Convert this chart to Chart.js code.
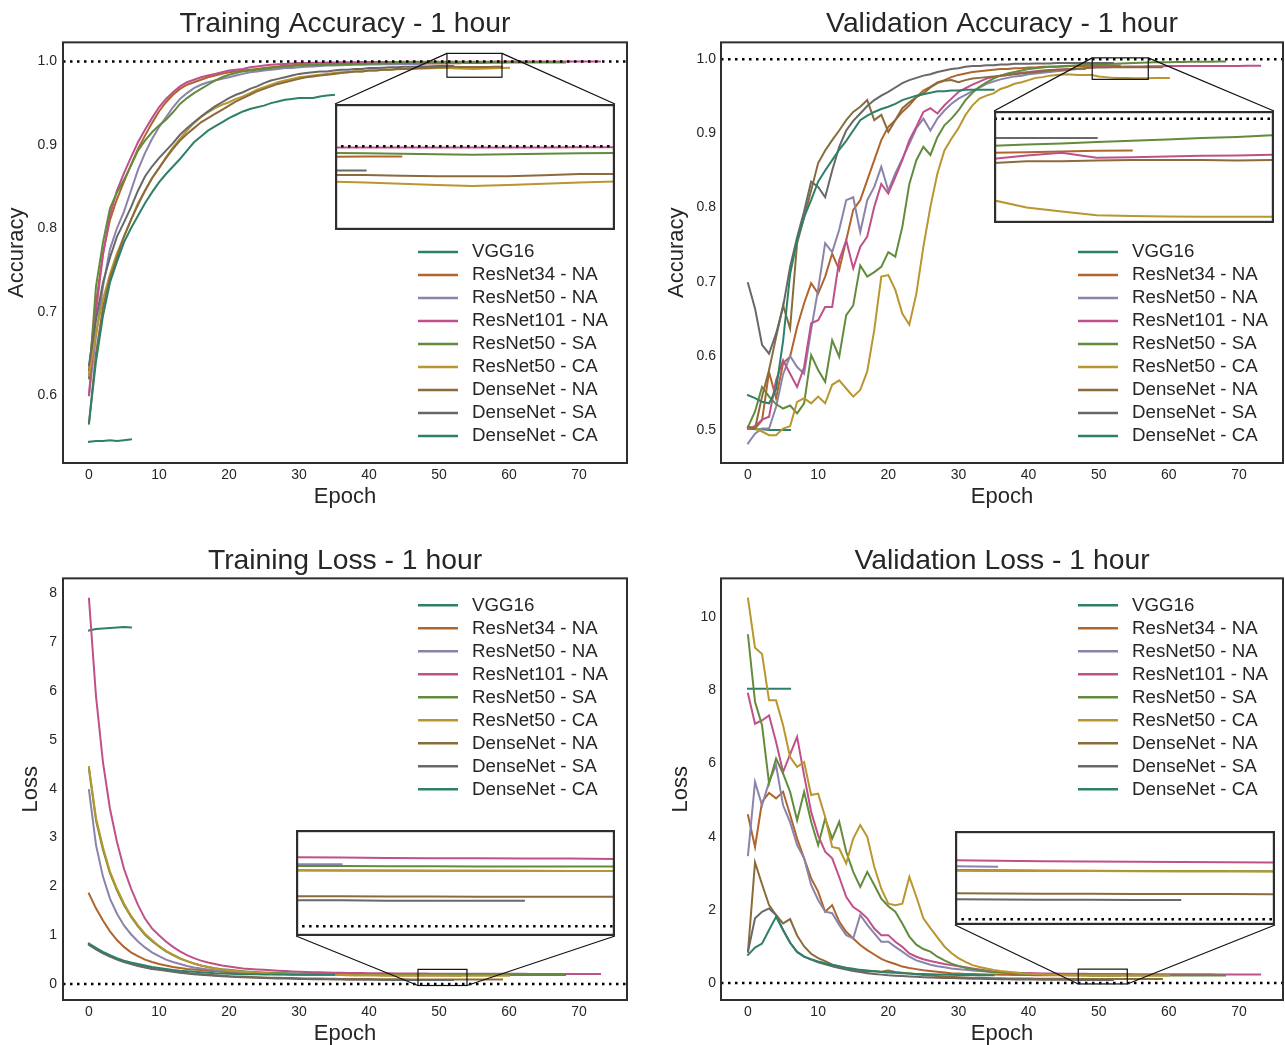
<!DOCTYPE html>
<html>
<head>
<meta charset="utf-8">
<script src="https://cdn.jsdelivr.net/npm/chart.js@4.4.1/dist/chart.umd.min.js"></script>
<style>
  html, body { margin: 0; padding: 0; background: #fff; overflow: hidden; }
  body { width: 1285px; height: 1045px; position: relative; }
  .panel { position: absolute; }
  .panel canvas { position: absolute; left: 0; top: 0; }
</style>
</head>
<body>
<div class="panel" style="left:0px;top:0px;width:642px;height:520px">
  <canvas id="mainTL" width="642" height="520"></canvas>
  <canvas id="insetTL" width="280" height="126" style="left:335px;top:104px"></canvas>
</div>
<div class="panel" style="left:660px;top:0px;width:625px;height:520px">
  <canvas id="mainTR" width="625" height="520"></canvas>
  <canvas id="insetTR" width="280" height="112" style="left:334px;top:111px"></canvas>
</div>
<div class="panel" style="left:0px;top:536px;width:642px;height:520px">
  <canvas id="mainBL" width="642" height="520"></canvas>
  <canvas id="insetBL" width="319" height="106" style="left:296px;top:294px"></canvas>
</div>
<div class="panel" style="left:660px;top:536px;width:625px;height:520px">
  <canvas id="mainBR" width="625" height="520"></canvas>
  <canvas id="insetBR" width="320" height="94" style="left:295px;top:295px"></canvas>
</div>
<script>
const models = ['VGG16', 'ResNet34 - NA', 'ResNet50 - NA', 'ResNet101 - NA', 'ResNet50 - SA',
    'ResNet50 - CA', 'DenseNet - NA', 'DenseNet - SA', 'DenseNet - CA'];

// value per epoch, index = epoch
const trainAccVGG16 = [0.544, 0.545, 0.545, 0.546, 0.545, 0.546, 0.547];
const trainAccR34 = [0.63, 0.71, 0.77, 0.81, 0.835, 0.856, 0.876, 0.895, 0.911, 0.926,
    0.94, 0.951, 0.96, 0.967, 0.972, 0.975, 0.978, 0.981, 0.983, 0.985,
    0.987, 0.988, 0.989, 0.990, 0.991, 0.992, 0.993, 0.994, 0.995, 0.9955,
    0.996, 0.9962, 0.9964, 0.9966, 0.9968, 0.997, 0.997, 0.9971, 0.9972, 0.9972,
    0.9973, 0.9973, 0.9974, 0.9974, 0.9974, 0.9975, 0.9975, 0.9975, 0.9975, 0.9976,
    0.9976, 0.9976, 0.9977, 0.9977];
const trainAccR50NA = [0.60, 0.67, 0.73, 0.775, 0.80, 0.82, 0.845, 0.87, 0.89, 0.907,
    0.921, 0.933, 0.945, 0.955, 0.962, 0.968, 0.972, 0.975, 0.977, 0.979,
    0.981, 0.983, 0.985, 0.987, 0.988, 0.989, 0.990, 0.991, 0.992, 0.992,
    0.993, 0.9935, 0.994, 0.9945, 0.995, 0.9952, 0.9955, 0.9957, 0.996, 0.996,
    0.9962, 0.9964, 0.9965, 0.9966, 0.9967, 0.9968, 0.9969, 0.997, 0.997];
const trainAccR101 = [0.60, 0.70, 0.768, 0.816, 0.845, 0.866, 0.885, 0.903, 0.918, 0.932,
    0.945, 0.955, 0.963, 0.97, 0.975, 0.978, 0.981, 0.983, 0.985, 0.987,
    0.989, 0.990, 0.991, 0.993, 0.994, 0.995, 0.996, 0.9965, 0.997, 0.9975,
    0.998, 0.998, 0.9983, 0.9985, 0.9986, 0.9988, 0.999, 0.999, 0.9991, 0.9992,
    0.9992, 0.9993, 0.9993, 0.9994, 0.9994, 0.9995, 0.9995, 0.9995, 0.9996, 0.9996,
    0.9996, 0.9997, 0.9997, 0.9997, 0.9997, 0.9997, 0.9997, 0.9997, 0.9998, 0.9998,
    0.9998, 0.9998, 0.9998, 0.9998, 0.9998, 0.9998, 0.9998, 0.9998, 0.9999, 0.9999,
    0.9999, 0.9999, 0.9999, 0.9999];
const trainAccR50SA = [0.62, 0.73, 0.783, 0.824, 0.843, 0.858, 0.875, 0.893, 0.905, 0.915,
    0.923, 0.93, 0.939, 0.949, 0.956, 0.962, 0.967, 0.972, 0.977, 0.981,
    0.984, 0.986, 0.988, 0.989, 0.990, 0.991, 0.992, 0.993, 0.994, 0.9945,
    0.995, 0.9953, 0.9956, 0.9958, 0.996, 0.9962, 0.9964, 0.9966, 0.9968, 0.997,
    0.9972, 0.9974, 0.9976, 0.9978, 0.998, 0.998, 0.9982, 0.9983, 0.9984, 0.9985,
    0.9985, 0.9985, 0.9984, 0.9983, 0.9982, 0.9981, 0.9982, 0.9983, 0.9984, 0.9985,
    0.9986, 0.9986, 0.9987, 0.9987, 0.9987, 0.9988, 0.9988, 0.9988, 0.9988];
const trainAccR50CA = [0.624, 0.675, 0.715, 0.745, 0.77, 0.79, 0.81, 0.83, 0.845, 0.86,
    0.872, 0.885, 0.897, 0.907, 0.917, 0.926, 0.933, 0.939, 0.944, 0.948,
    0.951, 0.955, 0.958, 0.962, 0.966, 0.969, 0.972, 0.975, 0.977, 0.979,
    0.981, 0.982, 0.983, 0.984, 0.985, 0.986, 0.987, 0.987, 0.988, 0.988,
    0.989, 0.989, 0.990, 0.990, 0.9905, 0.991, 0.991, 0.9913, 0.9915, 0.9918,
    0.992, 0.992, 0.9918, 0.9915, 0.9912, 0.991, 0.9912, 0.9915, 0.9918, 0.992, 0.9922];
const trainAccDNNA = [0.566, 0.65, 0.705, 0.74, 0.765, 0.79, 0.81, 0.828, 0.845, 0.86,
    0.872, 0.884, 0.895, 0.905, 0.913, 0.92, 0.927, 0.932, 0.937, 0.942,
    0.947, 0.952, 0.956, 0.96, 0.964, 0.967, 0.97, 0.973, 0.975, 0.977,
    0.979, 0.981, 0.982, 0.983, 0.984, 0.985, 0.986, 0.987, 0.988, 0.988,
    0.989, 0.989, 0.990, 0.990, 0.991, 0.991, 0.9915, 0.992, 0.992, 0.9925,
    0.993, 0.9935, 0.9935, 0.9933, 0.9932, 0.9932, 0.9932, 0.9934, 0.9937, 0.9937];
const trainAccDNSA = [0.636, 0.69, 0.735, 0.765, 0.79, 0.807, 0.825, 0.845, 0.862, 0.874,
    0.884, 0.893, 0.902, 0.912, 0.92, 0.927, 0.934, 0.94, 0.946, 0.951,
    0.956, 0.96, 0.963, 0.967, 0.97, 0.974, 0.977, 0.979, 0.981, 0.983,
    0.985, 0.986, 0.987, 0.988, 0.988, 0.989, 0.990, 0.990, 0.991, 0.991,
    0.992, 0.992, 0.9925, 0.993, 0.993, 0.9935, 0.9937, 0.994, 0.994, 0.9942,
    0.9944, 0.9945, 0.9945];
const trainAccDNCA = [0.566, 0.64, 0.695, 0.735, 0.76, 0.783, 0.80, 0.815, 0.83, 0.843,
    0.855, 0.865, 0.874, 0.883, 0.893, 0.903, 0.91, 0.917, 0.922, 0.927,
    0.932, 0.936, 0.94, 0.943, 0.945, 0.947, 0.95, 0.952, 0.954, 0.955,
    0.956, 0.956, 0.956, 0.958, 0.959, 0.96];

const valAccVGG16 = [0.502, 0.501, 0.501, 0.500, 0.500, 0.500, 0.500];
const valAccR34 = [0.502, 0.502, 0.513, 0.578, 0.543, 0.59, 0.599, 0.639, 0.671, 0.698,
    0.684, 0.707, 0.738, 0.716, 0.756, 0.797, 0.810, 0.837, 0.864, 0.891,
    0.909, 0.918, 0.929, 0.938, 0.949, 0.958, 0.963, 0.969, 0.972, 0.976,
    0.979, 0.981, 0.983, 0.984, 0.985, 0.986, 0.987, 0.987, 0.988, 0.988,
    0.989, 0.989, 0.990, 0.990, 0.990, 0.9905, 0.991, 0.991, 0.991, 0.9912,
    0.9913, 0.9915, 0.9917, 0.9918];
const valAccR50NA = [0.482, 0.495, 0.502, 0.502, 0.531, 0.575, 0.60, 0.585, 0.576, 0.635,
    0.69, 0.752, 0.74, 0.77, 0.81, 0.814, 0.767, 0.81, 0.828, 0.855,
    0.823, 0.846, 0.866, 0.886, 0.907, 0.92, 0.904, 0.92, 0.931, 0.94,
    0.947, 0.952, 0.957, 0.962, 0.967, 0.97, 0.973, 0.975, 0.977, 0.978,
    0.98, 0.981, 0.982, 0.983, 0.984, 0.985, 0.986, 0.987, 0.987];
const valAccR101 = [0.502, 0.505, 0.514, 0.518, 0.567, 0.594, 0.576, 0.558, 0.585, 0.644,
    0.648, 0.666, 0.666, 0.729, 0.756, 0.718, 0.747, 0.761, 0.801, 0.832,
    0.819, 0.841, 0.864, 0.891, 0.909, 0.929, 0.934, 0.927, 0.938, 0.947,
    0.956, 0.961, 0.966, 0.970, 0.974, 0.976, 0.978, 0.979, 0.981, 0.982,
    0.983, 0.984, 0.985, 0.9855, 0.986, 0.9865, 0.987, 0.9875, 0.988, 0.9896,
    0.9905, 0.9912, 0.9899, 0.99, 0.9902, 0.9904, 0.9905, 0.9907, 0.9908, 0.9908,
    0.9909, 0.9909, 0.991, 0.991, 0.991, 0.991, 0.991, 0.9911, 0.9911, 0.9911,
    0.9911, 0.9912, 0.9912, 0.9912];
const valAccR50SA = [0.504, 0.525, 0.558, 0.545, 0.535, 0.529, 0.533, 0.5225, 0.536, 0.601,
    0.581, 0.565, 0.621, 0.599, 0.655, 0.668, 0.722, 0.707, 0.713, 0.72,
    0.74, 0.734, 0.774, 0.832, 0.864, 0.882, 0.871, 0.895, 0.911, 0.92,
    0.931, 0.945, 0.955, 0.963, 0.969, 0.974, 0.978, 0.981, 0.983, 0.985,
    0.987, 0.988, 0.989, 0.99, 0.9905, 0.991, 0.9915, 0.992, 0.9925, 0.993,
    0.9933, 0.9936, 0.994, 0.9943, 0.9946, 0.995, 0.9953, 0.9957, 0.996, 0.996,
    0.9962, 0.9964, 0.9965, 0.9966, 0.9967, 0.9968, 0.9969, 0.997, 0.997];
const valAccR50CA = [0.5045, 0.502, 0.498, 0.493, 0.493, 0.502, 0.505, 0.538, 0.543, 0.536,
    0.545, 0.536, 0.561, 0.567, 0.556, 0.545, 0.554, 0.579, 0.635, 0.707,
    0.709, 0.689, 0.657, 0.642, 0.684, 0.747, 0.801, 0.846, 0.877, 0.893,
    0.907, 0.925, 0.938, 0.947, 0.951, 0.954, 0.96, 0.963, 0.967, 0.969,
    0.972, 0.975, 0.976, 0.978, 0.979, 0.98, 0.9797, 0.979, 0.979, 0.979,
    0.977, 0.976, 0.975, 0.9748, 0.9747, 0.9746, 0.9746, 0.9746, 0.9747, 0.9748, 0.9748];
const valAccDNNA = [0.504, 0.502, 0.545, 0.581, 0.625, 0.668, 0.637, 0.752, 0.787, 0.823,
    0.86, 0.877, 0.891, 0.904, 0.918, 0.929, 0.936, 0.945, 0.918, 0.925,
    0.902, 0.918, 0.934, 0.942, 0.949, 0.954, 0.962, 0.968, 0.971, 0.972,
    0.969, 0.972, 0.974, 0.975, 0.976, 0.977, 0.978, 0.979, 0.98, 0.981,
    0.982, 0.983, 0.984, 0.985, 0.986, 0.986, 0.987, 0.987, 0.988, 0.9885,
    0.989, 0.989, 0.9892, 0.9893, 0.9893, 0.9893, 0.9892, 0.9893, 0.9894, 0.9894];
const valAccDNSA = [0.698, 0.664, 0.615, 0.603, 0.63, 0.666, 0.72, 0.76, 0.795, 0.835,
    0.828, 0.814, 0.85, 0.882, 0.904, 0.917, 0.927, 0.937, 0.945, 0.951,
    0.956, 0.962, 0.968, 0.972, 0.975, 0.978, 0.98, 0.983, 0.985, 0.987,
    0.988, 0.99, 0.991, 0.991, 0.992, 0.992, 0.993, 0.993, 0.994, 0.994,
    0.994, 0.9945, 0.9945, 0.9945, 0.995, 0.995, 0.995, 0.995, 0.995, 0.995,
    0.995, 0.995, 0.995];
const valAccDNCA = [0.547, 0.543, 0.538, 0.536, 0.555, 0.62, 0.71, 0.756, 0.787, 0.81,
    0.835, 0.85, 0.864, 0.878, 0.89, 0.904, 0.918, 0.924, 0.929, 0.933,
    0.936, 0.94, 0.945, 0.948, 0.951, 0.953, 0.955, 0.957, 0.957, 0.958,
    0.958, 0.959, 0.959, 0.959, 0.959, 0.959];

const trainLossVGG16 = [7.24, 7.27, 7.28, 7.29, 7.3, 7.31, 7.3];
const trainLossR34 = [1.85, 1.55, 1.3, 1.08, 0.9, 0.76, 0.65, 0.57, 0.5, 0.45,
    0.41, 0.38, 0.35, 0.33, 0.31, 0.3, 0.285, 0.27, 0.26, 0.25,
    0.24, 0.233, 0.226, 0.22, 0.215, 0.21, 0.206, 0.202, 0.199, 0.196,
    0.193, 0.19, 0.188, 0.186, 0.185, 0.184, 0.183, 0.182, 0.181, 0.18,
    0.179, 0.178, 0.177, 0.177, 0.176, 0.176, 0.175, 0.175, 0.174, 0.174,
    0.173, 0.173, 0.173, 0.172];
const trainLossR50NA = [3.97, 2.85, 2.2, 1.75, 1.44, 1.2, 1.02, 0.87, 0.75, 0.65,
    0.57, 0.5, 0.45, 0.41, 0.37, 0.34, 0.32, 0.3, 0.28, 0.27,
    0.26, 0.25, 0.243, 0.237, 0.231, 0.226, 0.222, 0.218, 0.215, 0.212,
    0.21, 0.208, 0.206, 0.204, 0.203, 0.201, 0.2, 0.199, 0.198, 0.197,
    0.196, 0.195, 0.195, 0.194, 0.194, 0.193, 0.193, 0.193, 0.193];
const trainLossR101 = [7.89, 5.9, 4.54, 3.59, 2.91, 2.36, 1.96, 1.62, 1.34, 1.14,
    1.0, 0.87, 0.76, 0.67, 0.59, 0.53, 0.48, 0.44, 0.41, 0.38,
    0.36, 0.34, 0.32, 0.31, 0.3, 0.29, 0.28, 0.272, 0.265, 0.258,
    0.252, 0.247, 0.243, 0.239, 0.236, 0.233, 0.23, 0.228, 0.226, 0.224,
    0.222, 0.221, 0.22, 0.219, 0.218, 0.217, 0.216, 0.215, 0.214, 0.213,
    0.212, 0.212, 0.211, 0.211, 0.21, 0.21, 0.21, 0.209, 0.209, 0.209,
    0.208, 0.208, 0.208, 0.207, 0.207, 0.207, 0.207, 0.206, 0.206, 0.206,
    0.206, 0.205, 0.205, 0.205];
const trainLossR50SA = [4.4, 3.35, 2.75, 2.27, 1.92, 1.62, 1.38, 1.18, 1.01, 0.88,
    0.77, 0.67, 0.59, 0.52, 0.47, 0.42, 0.38, 0.35, 0.325, 0.305,
    0.29, 0.275, 0.262, 0.252, 0.243, 0.236, 0.23, 0.224, 0.219, 0.215,
    0.211, 0.208, 0.205, 0.203, 0.201, 0.199, 0.197, 0.196, 0.195, 0.194,
    0.193, 0.192, 0.191, 0.19, 0.19, 0.189, 0.189, 0.188, 0.188, 0.187,
    0.187, 0.186, 0.186, 0.186, 0.186, 0.185, 0.185, 0.185, 0.185, 0.185,
    0.184, 0.184, 0.184, 0.184, 0.184, 0.184, 0.183, 0.183, 0.183];
const trainLossR50CA = [4.44, 3.4, 2.8, 2.3, 1.95, 1.65, 1.4, 1.2, 1.03, 0.9,
    0.78, 0.68, 0.6, 0.53, 0.47, 0.42, 0.38, 0.35, 0.32, 0.3,
    0.28, 0.265, 0.252, 0.241, 0.232, 0.224, 0.217, 0.211, 0.206, 0.202,
    0.198, 0.195, 0.192, 0.19, 0.188, 0.186, 0.184, 0.183, 0.181, 0.18,
    0.179, 0.178, 0.177, 0.176, 0.176, 0.175, 0.175, 0.174, 0.174, 0.173,
    0.173, 0.173, 0.172, 0.172, 0.172, 0.172, 0.171, 0.171, 0.171, 0.171, 0.171];
const trainLossDNNA = [0.81, 0.72, 0.64, 0.57, 0.51, 0.46, 0.42, 0.38, 0.35, 0.32,
    0.3, 0.28, 0.26, 0.24, 0.225, 0.21, 0.2, 0.19, 0.18, 0.17,
    0.16, 0.155, 0.15, 0.145, 0.14, 0.135, 0.13, 0.127, 0.124, 0.121,
    0.118, 0.115, 0.113, 0.111, 0.109, 0.107, 0.105, 0.104, 0.103, 0.102,
    0.101, 0.1, 0.099, 0.098, 0.097, 0.096, 0.095, 0.094, 0.094, 0.093,
    0.093, 0.092, 0.092, 0.092, 0.092, 0.092, 0.091, 0.091, 0.091, 0.091];
const trainLossDNSA = [0.8, 0.71, 0.63, 0.56, 0.5, 0.45, 0.41, 0.37, 0.34, 0.31,
    0.29, 0.27, 0.25, 0.23, 0.215, 0.2, 0.19, 0.18, 0.17, 0.16,
    0.152, 0.145, 0.138, 0.132, 0.127, 0.122, 0.118, 0.114, 0.111, 0.108,
    0.105, 0.102, 0.1, 0.098, 0.096, 0.094, 0.092, 0.09, 0.089, 0.088,
    0.087, 0.086, 0.085, 0.084, 0.083, 0.082, 0.082, 0.081, 0.081, 0.08,
    0.08, 0.08, 0.08];
const trainLossDNCA = [0.83, 0.74, 0.66, 0.59, 0.53, 0.48, 0.44, 0.41, 0.38, 0.35,
    0.33, 0.31, 0.29, 0.27, 0.26, 0.25, 0.24, 0.23, 0.22, 0.215,
    0.21, 0.205, 0.2, 0.2, 0.198, 0.196, 0.195, 0.194, 0.193, 0.192,
    0.191, 0.19, 0.19, 0.19, 0.19, 0.19];

const valLossVGG16 = [8.05, 8.05, 8.05, 8.05, 8.05, 8.05, 8.05];
const valLossR34 = [4.59, 3.72, 4.95, 5.2, 5.05, 5.23, 4.6, 3.95, 3.41, 2.86,
    2.5, 1.95, 2.13, 1.68, 1.4, 1.22, 1.04, 0.9, 0.78, 0.66,
    0.58, 0.52, 0.45, 0.41, 0.38, 0.35, 0.33, 0.31, 0.29, 0.27,
    0.26, 0.25, 0.245, 0.24, 0.236, 0.232, 0.228, 0.225, 0.222, 0.22,
    0.218, 0.216, 0.215, 0.214, 0.213, 0.212, 0.211, 0.21, 0.21, 0.209,
    0.209, 0.208, 0.208, 0.208];
const valLossR50NA = [3.5, 5.5, 4.86, 5.5, 5.96, 4.86, 4.4, 3.77, 3.41, 2.68,
    2.27, 1.95, 1.91, 1.59, 1.31, 1.22, 1.86, 1.59, 1.36, 1.13,
    1.13, 0.99, 0.86, 0.72, 0.62, 0.56, 0.5, 0.46, 0.43, 0.4,
    0.38, 0.36, 0.345, 0.33, 0.315, 0.3, 0.29, 0.28, 0.27, 0.262,
    0.256, 0.25, 0.245, 0.24, 0.236, 0.233, 0.23, 0.228, 0.226];
const valLossR101 = [7.91, 7.09, 7.18, 7.32, 6.59, 5.77, 6.25, 6.73, 5.68, 4.68,
    4.04, 3.59, 3.41, 2.9, 2.36, 2.08, 1.95, 1.77, 1.49, 1.31,
    1.31, 1.13, 0.99, 0.81, 0.72, 0.65, 0.6, 0.56, 0.52, 0.49,
    0.46, 0.43, 0.4, 0.37, 0.34, 0.31, 0.3, 0.29, 0.283, 0.277,
    0.272, 0.268, 0.264, 0.261, 0.258, 0.256, 0.255, 0.254, 0.252, 0.25,
    0.249, 0.248, 0.246, 0.245, 0.244, 0.243, 0.242, 0.241, 0.24, 0.24,
    0.239, 0.239, 0.238, 0.238, 0.237, 0.237, 0.237, 0.236, 0.236, 0.236,
    0.235, 0.235, 0.235, 0.235];
const valLossR50SA = [9.51, 7.69, 7.05, 5.46, 6.14, 5.73, 5.23, 4.45, 5.23, 4.41,
    3.77, 4.5, 3.95, 4.41, 3.59, 3.04, 2.63, 3.04, 2.68, 2.31,
    2.1, 1.95, 1.63, 1.27, 1.05, 0.93, 0.86, 0.72, 0.62, 0.53,
    0.47, 0.42, 0.38, 0.35, 0.32, 0.3, 0.29, 0.28, 0.27, 0.26,
    0.25, 0.243, 0.236, 0.23, 0.225, 0.22, 0.216, 0.212, 0.21, 0.209,
    0.208, 0.208, 0.207, 0.207, 0.207, 0.206, 0.206, 0.206, 0.206, 0.205,
    0.205, 0.205, 0.205, 0.205, 0.204, 0.204, 0.204, 0.204, 0.204];
const valLossR50CA = [10.51, 9.17, 9.0, 7.73, 7.73, 7.05, 6.18, 5.91, 6.04, 5.14,
    5.18, 4.54, 3.72, 3.68, 3.27, 3.95, 4.32, 4.0, 3.18, 2.58,
    2.17, 2.13, 2.17, 2.9, 2.36, 1.77, 1.5, 1.25, 1.0, 0.82,
    0.68, 0.58, 0.49, 0.44, 0.4, 0.36, 0.33, 0.31, 0.29, 0.27,
    0.255, 0.245, 0.235, 0.228, 0.222, 0.217, 0.213, 0.21, 0.209, 0.208,
    0.208, 0.207, 0.207, 0.207, 0.206, 0.206, 0.206, 0.205, 0.205, 0.205, 0.205];
const valLossDNNA = [0.86, 3.3, 2.7, 2.13, 1.86, 1.63, 1.75, 1.3, 1.0, 0.8,
    0.68, 0.6, 0.5, 0.45, 0.4, 0.36, 0.33, 0.31, 0.33, 0.31,
    0.34, 0.3, 0.28, 0.26, 0.24, 0.22, 0.205, 0.19, 0.18, 0.17,
    0.16, 0.153, 0.147, 0.142, 0.138, 0.134, 0.13, 0.127, 0.125, 0.123,
    0.121, 0.119, 0.117, 0.116, 0.115, 0.114, 0.113, 0.112, 0.111, 0.11,
    0.11, 0.109, 0.109, 0.109, 0.108, 0.108, 0.108, 0.108, 0.107, 0.107];
const valLossDNSA = [0.86, 1.77, 1.95, 2.04, 1.86, 1.45, 1.1, 0.85, 0.72, 0.64,
    0.57, 0.51, 0.46, 0.41, 0.37, 0.33, 0.3, 0.27, 0.25, 0.23,
    0.21, 0.2, 0.19, 0.18, 0.17, 0.16, 0.152, 0.145, 0.14, 0.135,
    0.13, 0.125, 0.12, 0.116, 0.112, 0.108, 0.105, 0.102, 0.1, 0.098,
    0.096, 0.094, 0.092, 0.09, 0.089, 0.088, 0.087, 0.086, 0.085, 0.084,
    0.084, 0.083, 0.083];
const valLossDNCA = [0.77, 0.97, 1.08, 1.45, 1.81, 1.45, 1.1, 0.85, 0.72, 0.65,
    0.59, 0.54, 0.5, 0.46, 0.42, 0.39, 0.36, 0.34, 0.32, 0.3,
    0.29, 0.28, 0.27, 0.26, 0.25, 0.245, 0.24, 0.235, 0.23, 0.225,
    0.222, 0.22, 0.218, 0.216, 0.215, 0.214];

const epochTicks = [0, 10, 20, 30, 40, 50, 60, 70];
const trainAccTicks = [0.6, 0.7, 0.8, 0.9, 1.0];
const valAccTicks = [0.5, 0.6, 0.7, 0.8, 0.9, 1.0];
const trainLossTicks = [0, 1, 2, 3, 4, 5, 6, 7, 8];
const valLossTicks = [0, 2, 4, 6, 8, 10];

const colors = ['#2f8068', '#b0642e', '#8a84aa', '#c0508a', '#628c3c',
    '#b9962f', '#8a6c3c', '#686868', '#2f8068'];
const FONT = "'Liberation Sans', Arial, Helvetica, sans-serif";
const INK = '#262626';

const panels = [
    {
        main: 'mainTL', inset: 'insetTL', title: 'Training Accuracy - 1 hour', yTitle: 'Accuracy',
        series: [trainAccVGG16, trainAccR34, trainAccR50NA, trainAccR101, trainAccR50SA,
            trainAccR50CA, trainAccDNNA, trainAccDNSA, trainAccDNCA],
        ref: 1.0, yTicks: trainAccTicks, fmt: v => v.toFixed(1),
        xRange: [-3.71, 76.86], yRange: [0.5186, 1.0228],
        zoomX: [51.14, 59.0], zoomY: [0.981, 1.0096],
        insetBox: { left: 335, top: 104, width: 280, height: 126 }, insetSide: 'top',
        yWidth: 63, xHeight: 57, padRight: 15, titlePad: { top: 7.6, bottom: 0.8 },
        xTitlePad: 9.8, yTitlePad: 3.8, yTickPad: 6,
        legend: { fromRight: 209, fromBottom: 211 }
    },
    {
        main: 'mainTR', inset: 'insetTR', title: 'Validation Accuracy - 1 hour', yTitle: 'Accuracy',
        series: [valAccVGG16, valAccR34, valAccR50NA, valAccR101, valAccR50SA,
            valAccR50CA, valAccDNNA, valAccDNSA, valAccDNCA],
        ref: 1.0, yTicks: valAccTicks, fmt: v => v.toFixed(1),
        xRange: [-3.85, 76.27], yRange: [0.4555, 1.0229],
        zoomX: [49.07, 57.06], zoomY: [0.973, 1.002],
        insetBox: { left: 334, top: 111, width: 280, height: 112 }, insetSide: 'top',
        yWidth: 61, xHeight: 57, padRight: 2, titlePad: { top: 7.6, bottom: 0.8 },
        xTitlePad: 9.8, yTitlePad: 3.8, yTickPad: 5,
        legend: { fromRight: 205, fromBottom: 211 }
    },
    {
        main: 'mainBL', inset: 'insetBL', title: 'Training Loss - 1 hour', yTitle: 'Loss',
        series: [trainLossVGG16, trainLossR34, trainLossR50NA, trainLossR101, trainLossR50SA,
            trainLossR50CA, trainLossDNNA, trainLossDNSA, trainLossDNCA],
        ref: 0, yTicks: trainLossTicks, fmt: v => String(v),
        xRange: [-3.71, 76.86], yRange: [-0.327, 8.307],
        zoomX: [47.0, 54.0], zoomY: [-0.03, 0.3],
        insetBox: { left: 296, top: 294, width: 319, height: 106 }, insetSide: 'bottom',
        yWidth: 63, xHeight: 56, padRight: 15, titlePad: { top: 8.4, bottom: 0 },
        xTitlePad: 8.8, yTitlePad: 17.8, yTickPad: 6,
        legend: { fromRight: 209, fromTop: 27 }
    },
    {
        main: 'mainBR', inset: 'insetBR', title: 'Validation Loss - 1 hour', yTitle: 'Loss',
        series: [valLossVGG16, valLossR34, valLossR50NA, valLossR101, valLossR50SA,
            valLossR50CA, valLossDNNA, valLossDNSA, valLossDNCA],
        ref: 0, yTicks: valLossTicks, fmt: v => String(v),
        xRange: [-3.85, 76.27], yRange: [-0.464, 11.066],
        zoomX: [47.08, 54.07], zoomY: [-0.025, 0.38],
        insetBox: { left: 295, top: 295, width: 320, height: 94 }, insetSide: 'bottom',
        yWidth: 61, xHeight: 56, padRight: 2, titlePad: { top: 8.4, bottom: 0 },
        xTitlePad: 8.8, yTitlePad: 7.8, yTickPad: 5,
        legend: { fromRight: 205, fromTop: 27 }
    }
];

function buildDatasets(p) {
    const sets = models.map((name, k) => ({
        label: name,
        data: p.series[k].map((v, i) => ({ x: i, y: v })),
        borderColor: colors[k],
        borderWidth: 2,
        borderCapStyle: 'square',
        pointRadius: 0,
        tension: 0,
        fill: false,
        order: models.length - k
    }));
    sets.push({
        label: 'ref',
        refLine: true,
        data: [{ x: p.xRange[0], y: p.ref }, { x: p.xRange[1], y: p.ref }],
        borderColor: '#000',
        borderWidth: 2.5,
        borderDash: [2.5, 4.5],
        pointRadius: 0,
        order: 0
    });
    return sets;
}

const whiteBg = {
    id: 'whiteBg',
    beforeDraw(chart) {
        const ctx = chart.ctx;
        ctx.save();
        ctx.fillStyle = '#fff';
        ctx.fillRect(0, 0, chart.width, chart.height);
        ctx.restore();
    }
};

const frame = {
    id: 'frame',
    afterDatasetsDraw(chart, args, opts) {
        const { ctx, chartArea: a } = chart;
        ctx.save();
        ctx.strokeStyle = '#2e2e2e';
        ctx.lineWidth = opts.width || 2;
        const h = opts.inside ? ctx.lineWidth / 2 : 0;
        ctx.strokeRect(a.left + h, a.top + h, a.width - 2 * h, a.height - 2 * h);
        ctx.restore();
    }
};

const zoomMark = {
    id: 'zoomMark',
    afterDatasetsDraw(chart, args, opts) {
        if (!opts.box) return;
        const { ctx, scales: { x, y } } = chart;
        const l = x.getPixelForValue(opts.zx[0]), r = x.getPixelForValue(opts.zx[1]);
        const t = y.getPixelForValue(opts.zy[1]), b = y.getPixelForValue(opts.zy[0]);
        const ib = opts.box;
        ctx.save();
        ctx.strokeStyle = '#111';
        ctx.lineWidth = 1.2;
        ctx.strokeRect(l, t, r - l, b - t);
        ctx.beginPath();
        if (opts.side === 'top') {
            ctx.moveTo(l, t); ctx.lineTo(ib.left, ib.top);
            ctx.moveTo(r, t); ctx.lineTo(ib.left + ib.width, ib.top);
        } else {
            ctx.moveTo(l, b); ctx.lineTo(ib.left, ib.top + ib.height);
            ctx.moveTo(r, b); ctx.lineTo(ib.left + ib.width, ib.top + ib.height);
        }
        ctx.stroke();
        ctx.restore();
    }
};

const insideLegend = {
    id: 'insideLegend',
    afterDraw(chart, args, opts) {
        if (!opts.pos) return;
        const { ctx, chartArea: a } = chart;
        const x0 = a.right - opts.pos.fromRight;
        let y = opts.pos.fromTop != null ? a.top + opts.pos.fromTop : a.bottom - opts.pos.fromBottom;
        ctx.save();
        ctx.font = '18.7px ' + FONT;
        ctx.textBaseline = 'middle';
        ctx.textAlign = 'left';
        chart.data.datasets.filter(d => !d.refLine).forEach(d => {
            ctx.strokeStyle = d.borderColor;
            ctx.lineWidth = 2.5;
            ctx.beginPath();
            ctx.moveTo(x0, y);
            ctx.lineTo(x0 + 40, y);
            ctx.stroke();
            ctx.fillStyle = INK;
            ctx.fillText(d.label, x0 + 54, y);
            y += 23;
        });
        ctx.restore();
    }
};

panels.forEach(p => {
    new Chart(document.getElementById(p.main), {
        type: 'line',
        data: { datasets: buildDatasets(p) },
        plugins: [whiteBg, frame, zoomMark, insideLegend],
        options: {
            responsive: false,
            devicePixelRatio: 1,
            animation: false,
            events: [],
            layout: { padding: { left: 0, right: p.padRight, top: 0, bottom: 0 } },
            plugins: {
                legend: { display: false },
                tooltip: { enabled: false },
                title: {
                    display: true, text: p.title, fullSize: false, color: INK,
                    font: { family: FONT, size: 28.3, weight: 'normal' },
                    padding: p.titlePad
                },
                frame: { width: 2 },
                zoomMark: { zx: p.zoomX, zy: p.zoomY, box: p.insetBox, side: p.insetSide },
                insideLegend: { pos: p.legend }
            },
            scales: {
                x: {
                    type: 'linear', min: p.xRange[0], max: p.xRange[1],
                    afterBuildTicks: s => { s.ticks = epochTicks.map(v => ({ value: v })); },
                    afterFit: s => { s.height = p.xHeight; },
                    grid: { display: false, drawTicks: false },
                    border: { display: false },
                    ticks: { color: INK, font: { family: FONT, size: 14 }, padding: 4, maxRotation: 0, autoSkip: false },
                    title: {
                        display: true, text: 'Epoch', color: INK,
                        font: { family: FONT, size: 22 }, padding: { top: 0, bottom: p.xTitlePad }
                    }
                },
                y: {
                    type: 'linear', min: p.yRange[0], max: p.yRange[1],
                    afterBuildTicks: s => { s.ticks = p.yTicks.map(v => ({ value: v })); },
                    afterFit: s => { s.width = p.yWidth; },
                    grid: { display: false, drawTicks: false },
                    border: { display: false },
                    ticks: { color: INK, font: { family: FONT, size: 14 }, padding: p.yTickPad, callback: v => p.fmt(v) },
                    title: {
                        display: true, text: p.yTitle, color: INK,
                        font: { family: FONT, size: 22 }, padding: { top: p.yTitlePad, bottom: 0 }
                    }
                }
            }
        }
    });

    new Chart(document.getElementById(p.inset), {
        type: 'line',
        data: { datasets: buildDatasets(p) },
        plugins: [whiteBg, frame],
        options: {
            responsive: false,
            devicePixelRatio: 1,
            animation: false,
            events: [],
            layout: { padding: 0 },
            plugins: {
                legend: { display: false },
                tooltip: { enabled: false },
                title: { display: false },
                frame: { width: 2.2, inside: true }
            },
            scales: {
                x: { type: 'linear', display: false, min: p.zoomX[0], max: p.zoomX[1] },
                y: { type: 'linear', display: false, min: p.zoomY[0], max: p.zoomY[1] }
            }
        }
    });
});
</script>
</body>
</html>
